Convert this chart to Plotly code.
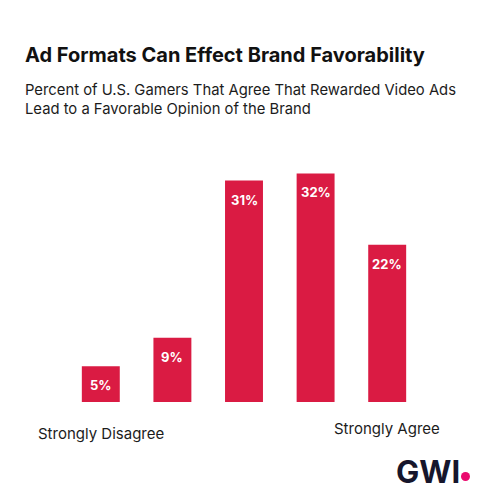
import plotly.graph_objects as go

# ---------------------------------------------------------------------------
# Data
# ---------------------------------------------------------------------------
categories = ["Strongly Disagree", "Disagree", "Neutral", "Agree", "Strongly Agree"]
values = [5, 9, 31, 32, 22]
value_labels = [f"{v}%" for v in values]

TITLE = "Ad Formats Can Effect Brand Favorability"
SUBTITLE = ("Percent of U.S. Gamers That Agree That Rewarded Video Ads<br>"
            "Lead to a Favorable Opinion of the Brand")

RED = "#DA1B43"
INK = "#1C1C1C"
NAVY = "#16162C"
PINK = "#EA0A6E"
FONT = "Inter, Roboto, Arial, sans-serif"

fig = go.Figure()

fig.add_trace(go.Bar(
    x=categories,
    y=values,
    width=0.53,
    marker=dict(color=RED, line=dict(width=0)),
    hoverinfo="skip",
    showlegend=False,
))

# value labels just inside the top of each bar
for c, v, t in zip(categories, values, value_labels):
    fig.add_annotation(
        x=c, y=v, text=f"<b>{t}</b>", showarrow=False,
        yanchor="top", yshift=-9,
        font=dict(family=FONT, size=13, color="white"),
    )

# end-of-scale labels
fig.add_annotation(x=categories[0], y=0, text=categories[0], showarrow=False,
                   yanchor="top", yshift=-20,
                   font=dict(family=FONT, size=15, color=INK))
fig.add_annotation(x=categories[-1], y=0, text=categories[-1], showarrow=False,
                   yanchor="top", yshift=-15,
                   font=dict(family=FONT, size=15, color=INK))

# title + subtitle (positions relative to the plot's top-left corner)
fig.add_annotation(xref="paper", yref="paper", x=0, y=1, xshift=-42, yshift=97,
                   xanchor="left", yanchor="middle", showarrow=False,
                   text=f"<b>{TITLE}</b>",
                   font=dict(family=FONT, size=20, color="#111111"))
fig.add_annotation(xref="paper", yref="paper", x=0, y=1, xshift=-42, yshift=53,
                   xanchor="left", yanchor="middle", showarrow=False, align="left",
                   text=SUBTITLE,
                   font=dict(family=FONT, size=14.8, color=INK))

# GWI logo
fig.add_annotation(xref="paper", yref="paper", x=1, y=0, xshift=39, yshift=-69,
                   xanchor="right", yanchor="middle", showarrow=False,
                   text="<b>GWI</b>",
                   font=dict(family=FONT, size=31, color=NAVY))
fig.add_shape(type="circle", xref="paper", yref="paper",
              xsizemode="pixel", ysizemode="pixel", xanchor=1, yanchor=0,
              x0=38, x1=47, y0=-79, y1=-70,
              fillcolor=PINK, line=dict(width=0))

fig.update_xaxes(range=[-0.5, len(categories) - 0.5], autorange=False,
                 showticklabels=False, showgrid=False, zeroline=False,
                 showline=False, ticks="")
fig.update_yaxes(range=[0, 35], autorange=False, visible=False,
                 showgrid=False, zeroline=False)

fig.update_layout(
    width=474, height=494,
    margin=dict(l=57, r=59, t=144, b=100, autoexpand=False),
    paper_bgcolor="white",
    plot_bgcolor="white",
    font=dict(family=FONT),
)

fig.write_html("out.html")
